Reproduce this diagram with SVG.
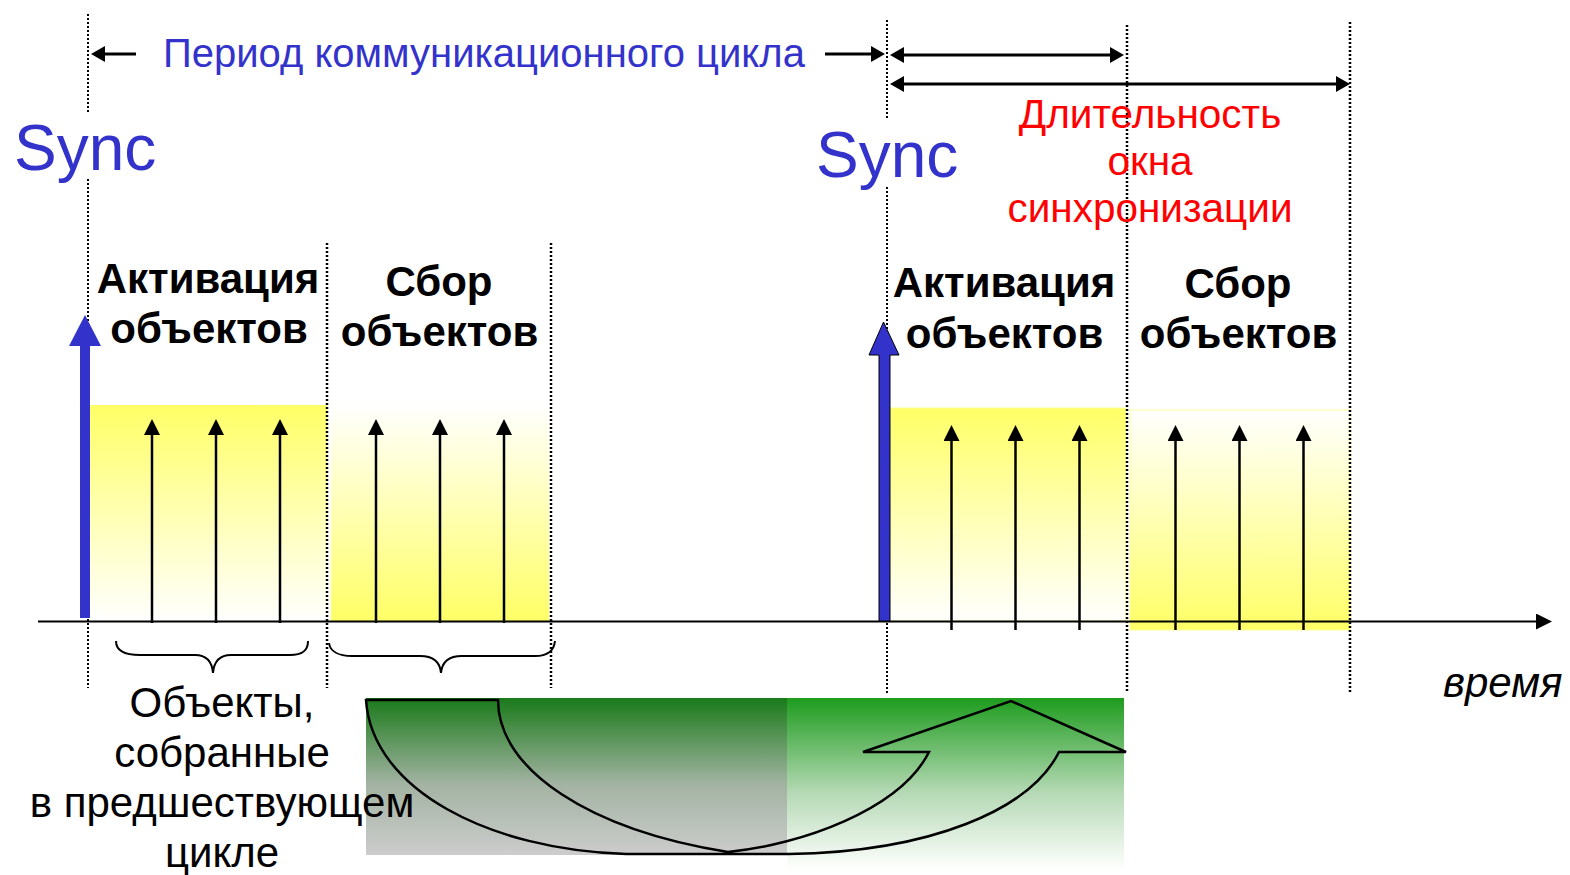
<svg xmlns="http://www.w3.org/2000/svg" width="1570" height="875" viewBox="0 0 1570 875">
<defs>
<style>
.dot{stroke:#000;stroke-width:2.5;stroke-dasharray:2 2;fill:none}
.dotT{stroke:#000;stroke-width:2;stroke-dasharray:2 2;fill:none}
.blue{fill:#3333cc;font-family:"Liberation Sans",Arial,sans-serif}
.red{fill:#ff0000;font-family:"Liberation Sans",Arial,sans-serif;font-size:40.5px;text-anchor:middle}
.bold{fill:#000;font-family:"Liberation Sans",Arial,sans-serif;font-size:42px;font-weight:bold;text-anchor:middle}
.norm{fill:#000;font-family:"Liberation Sans",Arial,sans-serif;font-size:42px;text-anchor:middle}
.thin{stroke:#000;stroke-width:2.5;fill:none;marker-end:url(#sa)}
.dim{stroke:#000;stroke-width:3;fill:none}
</style>
<marker id="sa" markerUnits="userSpaceOnUse" markerWidth="16" markerHeight="16" refX="1" refY="8" orient="auto" viewBox="0 0 16 16"><path d="M0,0 L16,8 L0,16 z" fill="#000"/></marker>
<marker id="da" markerUnits="userSpaceOnUse" markerWidth="14" markerHeight="16" refX="1" refY="8" orient="auto-start-reverse" viewBox="0 0 14 16"><path d="M0,0 L14,8 L0,16 z" fill="#000"/></marker>
<linearGradient id="yDown" x1="0" y1="0" x2="0" y2="1"><stop offset="0" stop-color="#ffff66"/><stop offset="1" stop-color="#ffffff"/></linearGradient>
<linearGradient id="yUp" x1="0" y1="0" x2="0" y2="1"><stop offset="0" stop-color="#ffffff"/><stop offset="1" stop-color="#ffff66"/></linearGradient>
<linearGradient id="gL" x1="0" y1="0" x2="0" y2="1"><stop offset="0" stop-color="#1a7a1a"/><stop offset="0.55" stop-color="#a3b3a3"/><stop offset="1" stop-color="#cccccc"/></linearGradient>
<linearGradient id="gR" x1="0" y1="0" x2="0" y2="1"><stop offset="0" stop-color="#1e9c1e"/><stop offset="0.55" stop-color="#b5d9b5"/><stop offset="1" stop-color="#ffffff"/></linearGradient>
</defs>
<rect width="1570" height="875" fill="#fff"/>

<g id="boxes">
<rect id="act-left-box" x="90" y="405" width="237" height="216" fill="url(#yDown)"/>
<rect id="col-left-box" x="331" y="404" width="218" height="217" fill="url(#yUp)"/>
<rect id="act-right-box" x="890" y="408" width="236" height="213" fill="url(#yDown)" stroke="#ffff99" stroke-width="1"/>
<rect id="col-right-box" x="1130" y="410" width="220" height="220" fill="url(#yUp)" stroke="#ffff99" stroke-width="1"/>
</g>

<g id="green-band">
<rect x="787" y="698" width="337" height="172" fill="url(#gR)"/>
<rect x="366" y="698" width="421" height="157" fill="url(#gL)"/>
</g>

<g id="guides">
<path class="dotT" d="M88,14 V113 M88,179 V688"/>
<path class="dot" d="M327,243 V688 M551,243 V688"/>
<path class="dotT" d="M887,20 V118 M887,187 V693"/>
<path class="dot" d="M1127,25 V693 M1350,22 V692"/>
</g>

<g id="connectors">
<line class="dim" x1="136" y1="54" x2="104" y2="54" marker-end="url(#da)"/>
<line class="dim" x1="825" y1="54" x2="872" y2="54" marker-end="url(#da)"/>
<line class="dim" x1="903" y1="55" x2="1111" y2="55" marker-start="url(#da)" marker-end="url(#da)"/>
<line class="dim" x1="903" y1="84" x2="1337" y2="84" marker-start="url(#da)" marker-end="url(#da)"/>
<line x1="38" y1="621.5" x2="1537" y2="621.5" stroke="#000" stroke-width="2" marker-end="url(#sa)"/>
<line class="thin" x1="152" y1="623" x2="152" y2="434"/>
<line class="thin" x1="216" y1="623" x2="216" y2="434"/>
<line class="thin" x1="280" y1="623" x2="280" y2="434"/>
<line class="thin" x1="376" y1="623" x2="376" y2="434"/>
<line class="thin" x1="440" y1="623" x2="440" y2="434"/>
<line class="thin" x1="504" y1="623" x2="504" y2="434"/>
<line class="thin" x1="951.5" y1="630" x2="951.5" y2="440"/>
<line class="thin" x1="1015.5" y1="630" x2="1015.5" y2="440"/>
<line class="thin" x1="1079.5" y1="630" x2="1079.5" y2="440"/>
<line class="thin" x1="1175.5" y1="630" x2="1175.5" y2="440"/>
<line class="thin" x1="1239.5" y1="630" x2="1239.5" y2="440"/>
<line class="thin" x1="1303.5" y1="630" x2="1303.5" y2="440"/>
<path d="M116,641 C116,651 124,655 140,655 H195 C206,655 212,661 213,673 C214,661 220,655 231,655 H290 C302,655 308,651 308,641" stroke="#000" stroke-width="2" fill="none"/>
<path d="M329,643 C330,651 338,656 352,656 H420 C432,656 440,661 441,673 C442,661 450,656 462,656 H535 C548,656 554,651 555,641" stroke="#000" stroke-width="2" fill="none"/>
<path d="M366,700 H498 C498,770 590,830 728,852 C800,845 900,810 929,752 H863 L1011,701 L1126,752 H1059 C1030,810 930,852 789,854 H626 C490,850 372,790 366,700 Z" fill="none" stroke="#000" stroke-width="2.5" stroke-linejoin="miter"/>
</g>

<g id="sync-left">
<polygon points="80,618 80,346 69,346 85,315 101,346 90,346 90,618" fill="#3333cc"/>
<text class="blue" x="14" y="170" font-size="64">Sync</text>
</g>
<g id="sync-right">
<polygon points="879,621 879,355 869,355 883.5,322 899,355 890,355 890,621" fill="#3333cc" stroke="#000" stroke-width="1"/>
<text class="blue" x="816" y="177" font-size="64">Sync</text>
</g>

<g id="period-label">
<text class="blue" x="163" y="67" font-size="40">Период коммуникационного цикла</text>
</g>
<g id="window-label">
<text class="red" x="1150" y="128">Длительность</text>
<text class="red" x="1150" y="175">окна</text>
<text class="red" x="1150" y="222">синхронизации</text>
</g>

<g id="activation-left">
<text class="bold" x="208" y="293">Активация</text>
<text class="bold" x="209" y="343">объектов</text>
</g>
<g id="collection-left">
<text class="bold" x="439" y="296">Сбор</text>
<text class="bold" x="439.5" y="346">объектов</text>
</g>
<g id="activation-right">
<text class="bold" x="1004" y="297">Активация</text>
<text class="bold" x="1004.5" y="348">объектов</text>
</g>
<g id="collection-right">
<text class="bold" x="1238" y="298">Сбор</text>
<text class="bold" x="1238.5" y="348">объектов</text>
</g>

<g id="previous-objects">
<text class="norm" x="222" y="717">Объекты,</text>
<text class="norm" x="222" y="767">собранные</text>
<text class="norm" x="222" y="817">в предшествующем</text>
<text class="norm" x="222" y="867">цикле</text>
</g>

<g id="time-label">
<text x="1443" y="697" font-family="Liberation Sans, Arial, sans-serif" font-size="42" font-style="italic" fill="#000">время</text>
</g>
</svg>
